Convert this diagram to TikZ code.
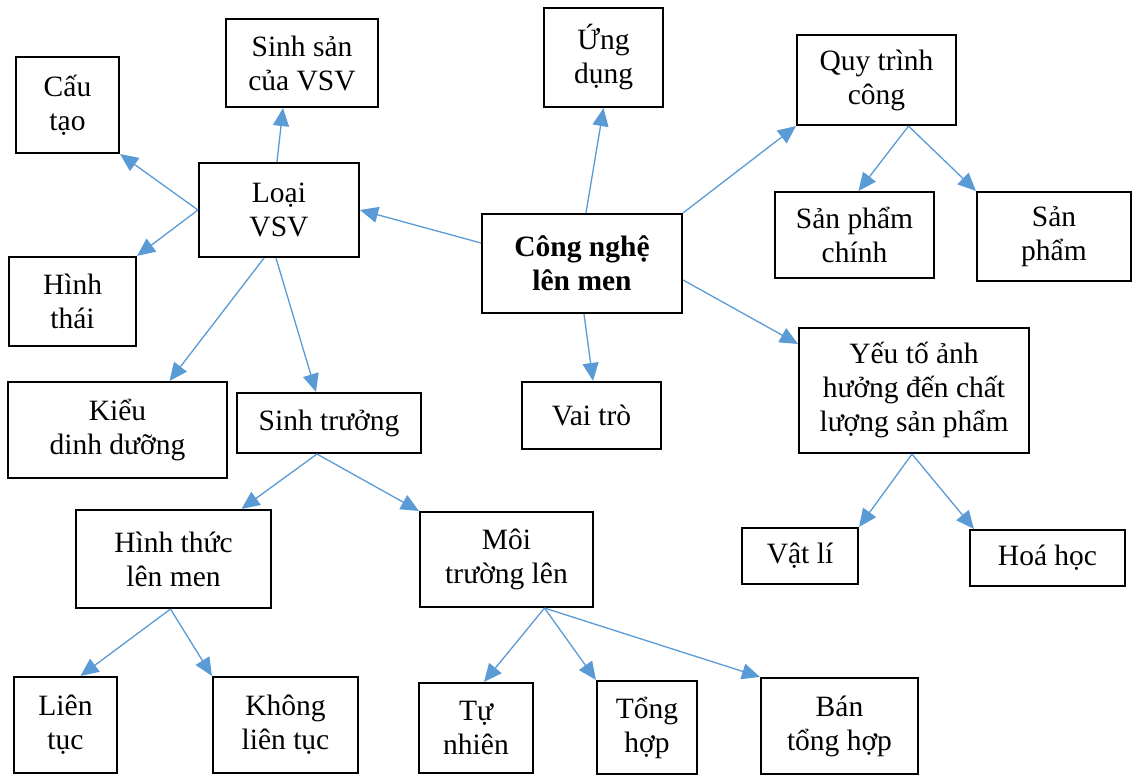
\documentclass[tikz,border=0pt]{standalone}
\usepackage{fontspec}
\setmainfont{Liberation Serif}
\usetikzlibrary{arrows.meta}
\definecolor{arrowblue}{HTML}{5B9BD5}
\begin{document}
\begin{tikzpicture}[x=1pt, y=-1pt,
  box node/.style={rectangle,draw=black,line width=2.1pt,align=center,inner sep=0pt,
    font=\fontsize{29.5}{34}\selectfont},
  link/.style={draw=arrowblue,fill=arrowblue,line width=1.3pt,-{Triangle[length=18pt,width=16pt]}}]
\useasboundingbox (0,0) rectangle (1136,775);
\begin{scope}[every node/.style={box node}]
\node [minimum width=200pt,minimum height=99pt,font=\fontsize{29.5}{34}\selectfont\bfseries](cong) at (582,263.5) {Công nghệ\\lên men};
\node [minimum width=160pt,minimum height=94pt](loai) at (279,210) {Loại\\VSV};
\node [minimum width=103pt,minimum height=96pt](cau) at (67.5,105) {Cấu\\tạo};
\node [minimum width=152pt,minimum height=88pt](sinhsan) at (302,63) {Sinh sản\\của VSV};
\node [minimum width=127pt,minimum height=89pt](hinhthai) at (72.5,301.5) {Hình\\thái};
\node [minimum width=219pt,minimum height=96pt](kieu) at (117.5,430) {Kiểu\\dinh dưỡng};
\node [minimum width=184pt,minimum height=60pt](sinhtruong) at (329,423) {Sinh trưởng};
\node [minimum width=195pt,minimum height=98pt](hinhthuc) at (173.5,559) {Hình thức\\lên men};
\node [minimum width=173pt,minimum height=95pt](moitruong) at (506.5,559.5) {Môi\\trường lên};
\node [minimum width=103pt,minimum height=96pt](lientuc) at (65.5,725) {Liên\\tục};
\node [minimum width=145pt,minimum height=96pt](khong) at (285.5,725) {Không\\liên tục};
\node [minimum width=114pt,minimum height=90pt](tunhien) at (476,728) {Tự\\nhiên};
\node [minimum width=100pt,minimum height=93pt](tonghop) at (647,727.5) {Tổng\\hợp};
\node [minimum width=157pt,minimum height=96pt](ban) at (839.5,726) {Bán\\tổng hợp};
\node [minimum width=119pt,minimum height=99pt](ungdung) at (603.5,57.5) {Ứng\\dụng};
\node [minimum width=139pt,minimum height=67pt](vaitro) at (591.5,415.5) {Vai trò};
\node [minimum width=159pt,minimum height=90pt](quytrinh) at (876.5,80) {Quy trình\\công};
\node [minimum width=159pt,minimum height=86pt](spchinh) at (854.5,235) {Sản phẩm\\chính};
\node [minimum width=154pt,minimum height=89pt](sanpham) at (1054,236.5) {Sản\\phẩm};
\node [minimum width=230pt,minimum height=125pt](yeuto) at (914,390.5) {Yếu tố ảnh\\hưởng đến chất\\lượng sản phẩm};
\node [minimum width=116pt,minimum height=56pt](vatli) at (800,556) {Vật lí};
\node [minimum width=155pt,minimum height=56pt](hoahoc) at (1047.5,558) {Hoá học};
\end{scope}
\path [every edge/.style=link]
    ([yshift=20.5pt]cong.west) edge (loai.east)
    ([xshift=4pt]cong.north) edge (ungdung.south)
    (cong.north east) edge (quytrinh.south west)
    ([yshift=-16.5pt]cong.east) edge ([yshift=-17pt]yeuto.north west)
    ([xshift=2pt]cong.south) edge ([xshift=1.5pt]vaitro.north)
    (loai.west) edge (cau.south east)
    (loai.west) edge (hinhthai.north east)
    ([xshift=-2pt]loai.north) edge ([xshift=-19pt]sinhsan.south)
    ([xshift=-15pt]loai.south) edge ([xshift=52pt]kieu.north)
    ([xshift=-3pt]loai.south) edge ([xshift=-13pt]sinhtruong.north)
    ([xshift=-12pt]sinhtruong.south) edge ([xshift=68pt]hinhthuc.north)
    ([xshift=-12pt]sinhtruong.south) edge (moitruong.north west)
    ([xshift=-3pt]hinhthuc.south) edge ([xshift=15pt]lientuc.north)
    ([xshift=-3pt]hinhthuc.south) edge (khong.north west)
    ([xshift=38pt]moitruong.south) edge ([xshift=8pt]tunhien.north)
    ([xshift=38pt]moitruong.south) edge (tonghop.north west)
    ([xshift=38pt]moitruong.south) edge (ban.north west)
    ([xshift=32pt]quytrinh.south) edge ([xshift=4pt]spchinh.north)
    ([xshift=32pt]quytrinh.south) edge (sanpham.north west)
    ([xshift=-2pt]yeuto.south) edge (vatli.north east)
    ([xshift=-2pt]yeuto.south) edge ([xshift=5pt]hoahoc.north west)
         ;
\end{tikzpicture}
\end{document}
